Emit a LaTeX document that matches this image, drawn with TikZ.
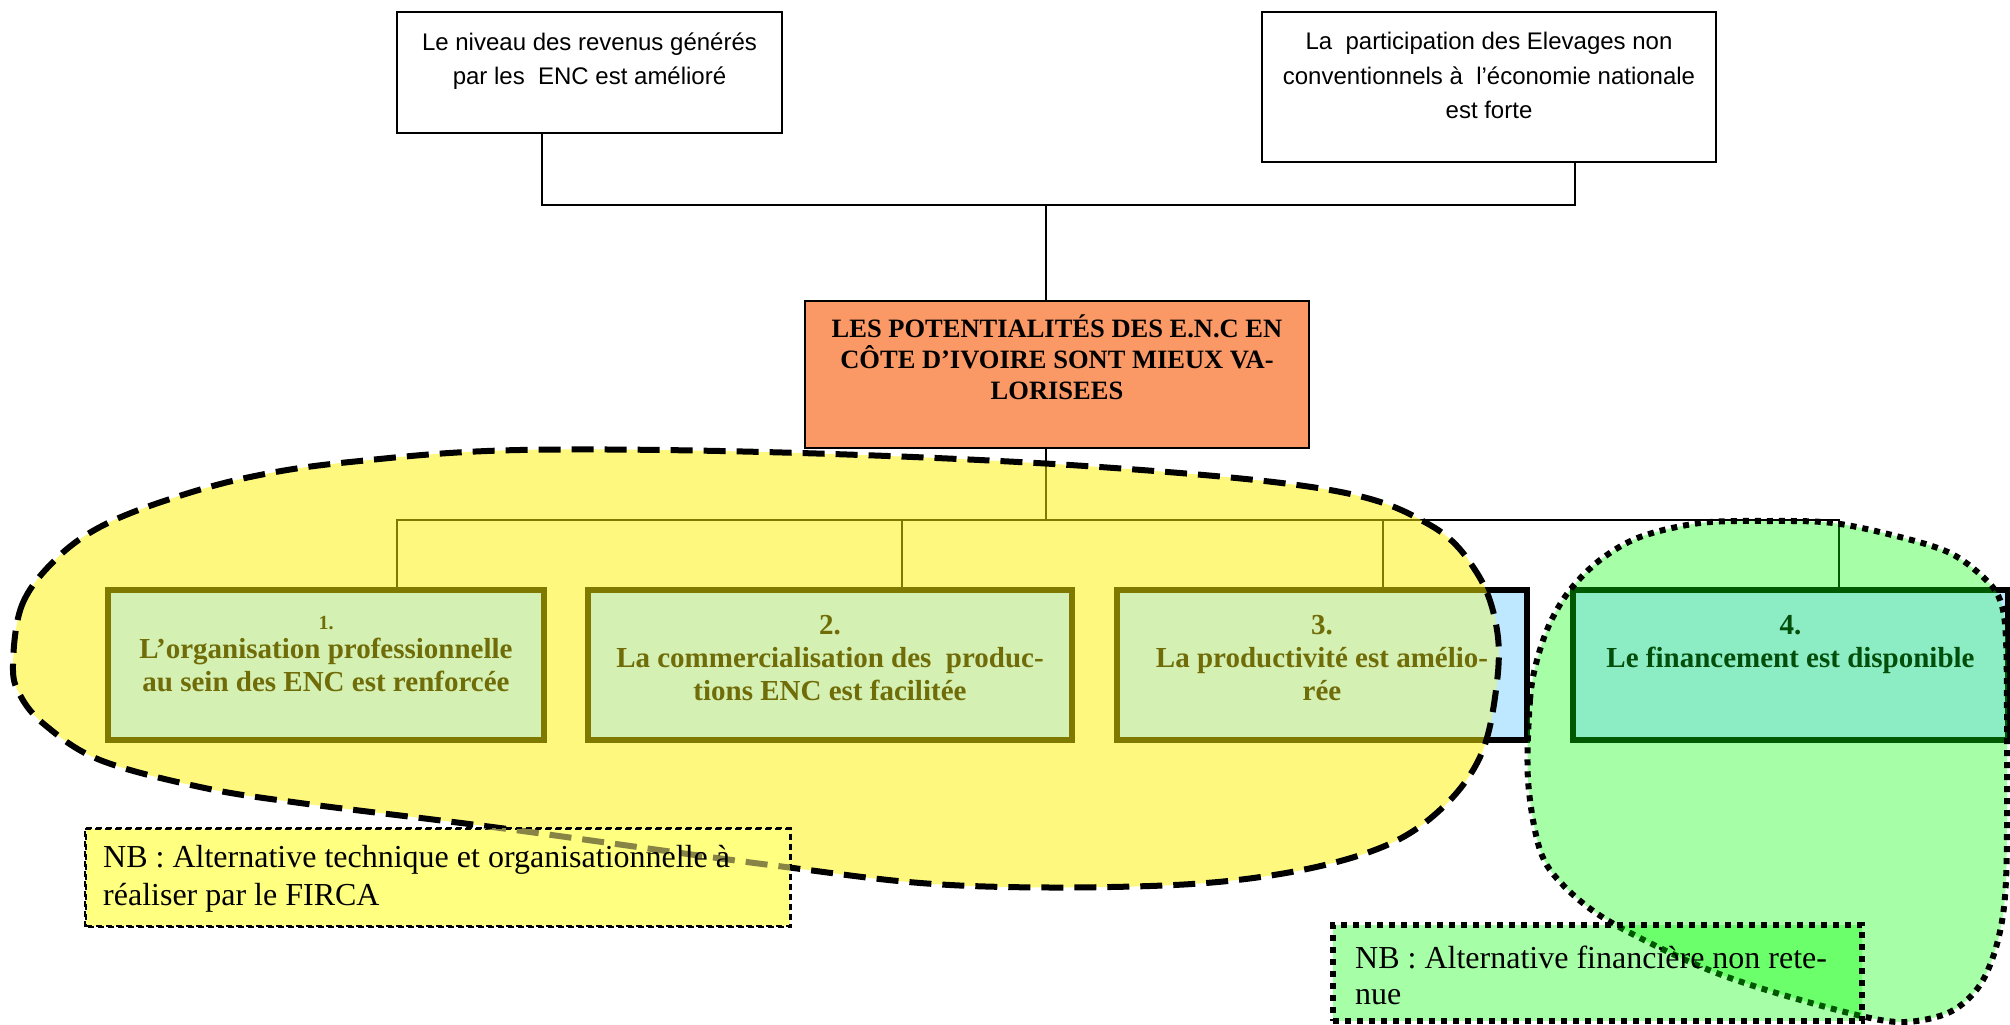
\documentclass[tikz,border=0pt]{standalone}
\usepackage{fontspec}
\setmainfont{Liberation Serif}
\newfontfamily\arialf{Liberation Sans}
\definecolor{orng}{RGB}{250,152,102}
\definecolor{lblue}{RGB}{190,232,255}
\definecolor{ymix}{RGB}{212,240,178}
\definecolor{gmix}{RGB}{140,236,196}
\definecolor{olivetxt}{RGB}{112,108,8}
\definecolor{dgreentxt}{RGB}{0,78,10}
\definecolor{nbyel}{RGB}{255,255,128}
\definecolor{olivedash}{RGB}{135,132,70}
\begin{document}
\begin{tikzpicture}[x=1pt,y=-1pt,
  topbox/.style={draw=black, line width=1.5pt, fill=white, rectangle, inner sep=0pt},
  toptext/.style={font=\arialf\fontsize{24}{34.5}\selectfont, align=center, inner sep=0pt},
  mainbox/.style={draw=black, line width=2pt, fill=orng, rectangle, inner sep=0pt},
  maintext/.style={font=\bfseries\fontsize{26.5}{31}\selectfont, align=center, inner sep=0pt},
  objbox/.style={draw=black, line width=5.5pt, fill=lblue, rectangle, inner sep=0pt},
  objtext/.style={font=\bfseries\fontsize{29}{33}\selectfont, align=center, inner sep=0pt, text=olivetxt},
  link/.style={draw=black, line width=1.5pt},
  yfill/.style={fill=yellow, fill opacity=0.5},
  yline/.style={draw=black, line width=6pt, dash pattern=on 22pt off 11pt},
  gfill/.style={fill=green, fill opacity=0.35},
  gline/.style={draw=black, line width=6pt, dash pattern=on 6pt off 6pt},
  nbyellow/.style={fill=nbyel, draw=black, line width=1.8pt, dash pattern=on 6pt off 4pt, rectangle, inner sep=0pt},
  nbgreen/.style={fill=green, fill opacity=0.35, draw=black, draw opacity=1, line width=6pt, dash pattern=on 6pt off 6pt, rectangle, inner sep=0pt},
  nbtext/.style={font=\fontsize{32}{38}\selectfont, align=left, inner sep=0pt, anchor=west}
]
\useasboundingbox (0,0) rectangle (2010,1025);

% top boxes
\node[topbox, minimum width=385pt, minimum height=121pt] (tb1) at (589.5,72.5) {};
\node[toptext] (tb1t) at (589.5,61) {Le niveau des revenus générés\\par les~ ENC est amélioré};
\node[topbox, minimum width=454pt, minimum height=150pt] (tb2) at (1489,87) {};
\node[toptext] (tb2t) at (1489,75.5) {La~ participation des Elevages non\\conventionnels à~ l’économie nationale\\est forte};

% central box
\node[mainbox, minimum width=504pt, minimum height=147pt] (cb) at (1057,374.5) {};
\node[maintext] (cbt) at (1057,357) {LES POTENTIALITÉS DES E.N.C EN\\CÔTE D’IVOIRE SONT MIEUX VA-\\LORISEES};

% upper connectors
\coordinate (j1) at (542,205);
\coordinate (j2) at (1575,205);
\coordinate (jc) at (1046,205);
\draw[link] (j1 |- tb1.south) -- (j1) -- (j2) -- (j2 |- tb2.south);
\draw[link] (jc) -- (jc |- cb.north);

% objective boxes
\node[objbox, minimum width=436pt, minimum height=150pt] (b1) at (326,665) {};
\node[objbox, minimum width=484pt, minimum height=150pt] (b2) at (830,665) {};
\node[objbox, minimum width=410pt, minimum height=150pt] (b3) at (1322,665) {};
\node[objbox, minimum width=435pt, minimum height=150pt] (b4) at (1790.5,665) {};

% lower connectors
\coordinate (hc) at (1046,520);
\coordinate (h1) at (397,520);
\coordinate (h2) at (902,520);
\coordinate (h3) at (1383,520);
\coordinate (h4) at (1839,520);
\draw[link] (hc |- cb.south) -- (hc);
\draw[link] (h1 |- b1.north) -- (h1) -- (h4) -- (h4 |- b4.north);
\draw[link] (h2) -- (h2 |- b2.north);
\draw[link] (h3) -- (h3 |- b3.north);

% yellow blob: tint
\fill[yfill] plot[smooth cycle, tension=0.6] coordinates {
 (13,665) (22,605) (55,560) (100,527) (167,500) (250,477) (350,462) (520,450)
 (800,453) (1100,467) (1330,490) (1430,525) (1477,573) (1497,630) (1496,690)
 (1480,757) (1440,810) (1380,848) (1280,874) (1150,886) (950,885) (770,865)
 (500,828) (300,803) (200,787) (100,760) (45,725) (20,695)};
% box interiors seen through the yellow blob
\begin{scope}
\clip plot[smooth cycle, tension=0.6] coordinates {
 (13,665) (22,605) (55,560) (100,527) (167,500) (250,477) (350,462) (520,450)
 (800,453) (1100,467) (1330,490) (1430,525) (1477,573) (1497,630) (1496,690)
 (1480,757) (1440,810) (1380,848) (1280,874) (1150,886) (950,885) (770,865)
 (500,828) (300,803) (200,787) (100,760) (45,725) (20,695)};
\fill[ymix] ([shift={(5.5pt,5.5pt)}]b1.south west) rectangle ([shift={(-5.5pt,-5.5pt)}]b1.north east);
\fill[ymix] ([shift={(5.5pt,5.5pt)}]b2.south west) rectangle ([shift={(-5.5pt,-5.5pt)}]b2.north east);
\fill[ymix] ([shift={(5.5pt,5.5pt)}]b3.south west) rectangle ([shift={(-5.5pt,-5.5pt)}]b3.north east);
\end{scope}
% yellow blob: outline
\draw[yline] plot[smooth cycle, tension=0.6] coordinates {
 (13,665) (22,605) (55,560) (100,527) (167,500) (250,477) (350,462) (520,450)
 (800,453) (1100,467) (1330,490) (1430,525) (1477,573) (1497,630) (1496,690)
 (1480,757) (1440,810) (1380,848) (1280,874) (1150,886) (950,885) (770,865)
 (500,828) (300,803) (200,787) (100,760) (45,725) (20,695)};

% green blob: tint
\fill[gfill] plot[smooth cycle, tension=0.55] coordinates {
 (1528,780) (1530,700) (1537,660) (1550,623) (1570,590) (1600,560) (1640,537)
 (1700,523) (1767,521) (1833,523) (1900,537) (1950,553) (1983,577) (2000,600)
 (2006,640) (2007,750) (2006,880) (1998,940) (1980,985) (1950,1012) (1905,1022)
 (1857,1015) (1760,988) (1690,962) (1607,920) (1563,885) (1540,850)};
\begin{scope}
\clip plot[smooth cycle, tension=0.55] coordinates {
 (1528,780) (1530,700) (1537,660) (1550,623) (1570,590) (1600,560) (1640,537)
 (1700,523) (1767,521) (1833,523) (1900,537) (1950,553) (1983,577) (2000,600)
 (2006,640) (2007,750) (2006,880) (1998,940) (1980,985) (1950,1012) (1905,1022)
 (1857,1015) (1760,988) (1690,962) (1607,920) (1563,885) (1540,850)};
\fill[gmix] ([shift={(5.5pt,5.5pt)}]b4.south west) rectangle ([shift={(-5.5pt,-5.5pt)}]b4.north east);
\end{scope}
\draw[gline] plot[smooth cycle, tension=0.55] coordinates {
 (1528,780) (1530,700) (1537,660) (1550,623) (1570,590) (1600,560) (1640,537)
 (1700,523) (1767,521) (1833,523) (1900,537) (1950,553) (1983,577) (2000,600)
 (2006,640) (2007,750) (2006,880) (1998,940) (1980,985) (1950,1012) (1905,1022)
 (1857,1015) (1760,988) (1690,962) (1607,920) (1563,885) (1540,850)};

% objective texts
\node[objtext] (b1t) at (326,654) {{\fontsize{20}{20}\selectfont 1.}\\[-4pt]L’organisation professionnelle\\au sein des ENC est renforcée};
\node[objtext] (b2t) at (830,658) {2.\\La commercialisation des~ produc-\\tions ENC est facilitée};
\node[objtext] (b3t) at (1322,658) {3.\\La productivité est amélio-\\rée};
\node[objtext, text=dgreentxt] (b4t) at (1790.5,645) {4.\\Le financement est disponible};

% NB boxes
\node[nbyellow, minimum width=704pt, minimum height=97pt] (nb1) at (438,877.5) {};
\begin{scope}
\clip (nb1.south west) rectangle (nb1.north east);
\draw[draw=olivedash, line width=6pt, dash pattern=on 22pt off 11pt] plot[smooth cycle, tension=0.6] coordinates {
 (13,665) (22,605) (55,560) (100,527) (167,500) (250,477) (350,462) (520,450)
 (800,453) (1100,467) (1330,490) (1430,525) (1477,573) (1497,630) (1496,690)
 (1480,757) (1440,810) (1380,848) (1280,874) (1150,886) (950,885) (770,865)
 (500,828) (300,803) (200,787) (100,760) (45,725) (20,695)};
\end{scope}
\draw[draw=black, line width=1.8pt, dash pattern=on 6pt off 4pt] (nb1.south west) rectangle (nb1.north east);
\node[nbtext] (nb1t) at (103,879) {NB : Alternative technique et organisationnelle à\\réaliser par le FIRCA};
\node[nbgreen, minimum width=529pt, minimum height=96pt] (nb2) at (1597.5,973) {};
\node[nbtext, font=\fontsize{32}{36}\selectfont] (nb2t) at (1355,975) {NB : Alternative financière non rete-\\nue};
\end{tikzpicture}
\end{document}
